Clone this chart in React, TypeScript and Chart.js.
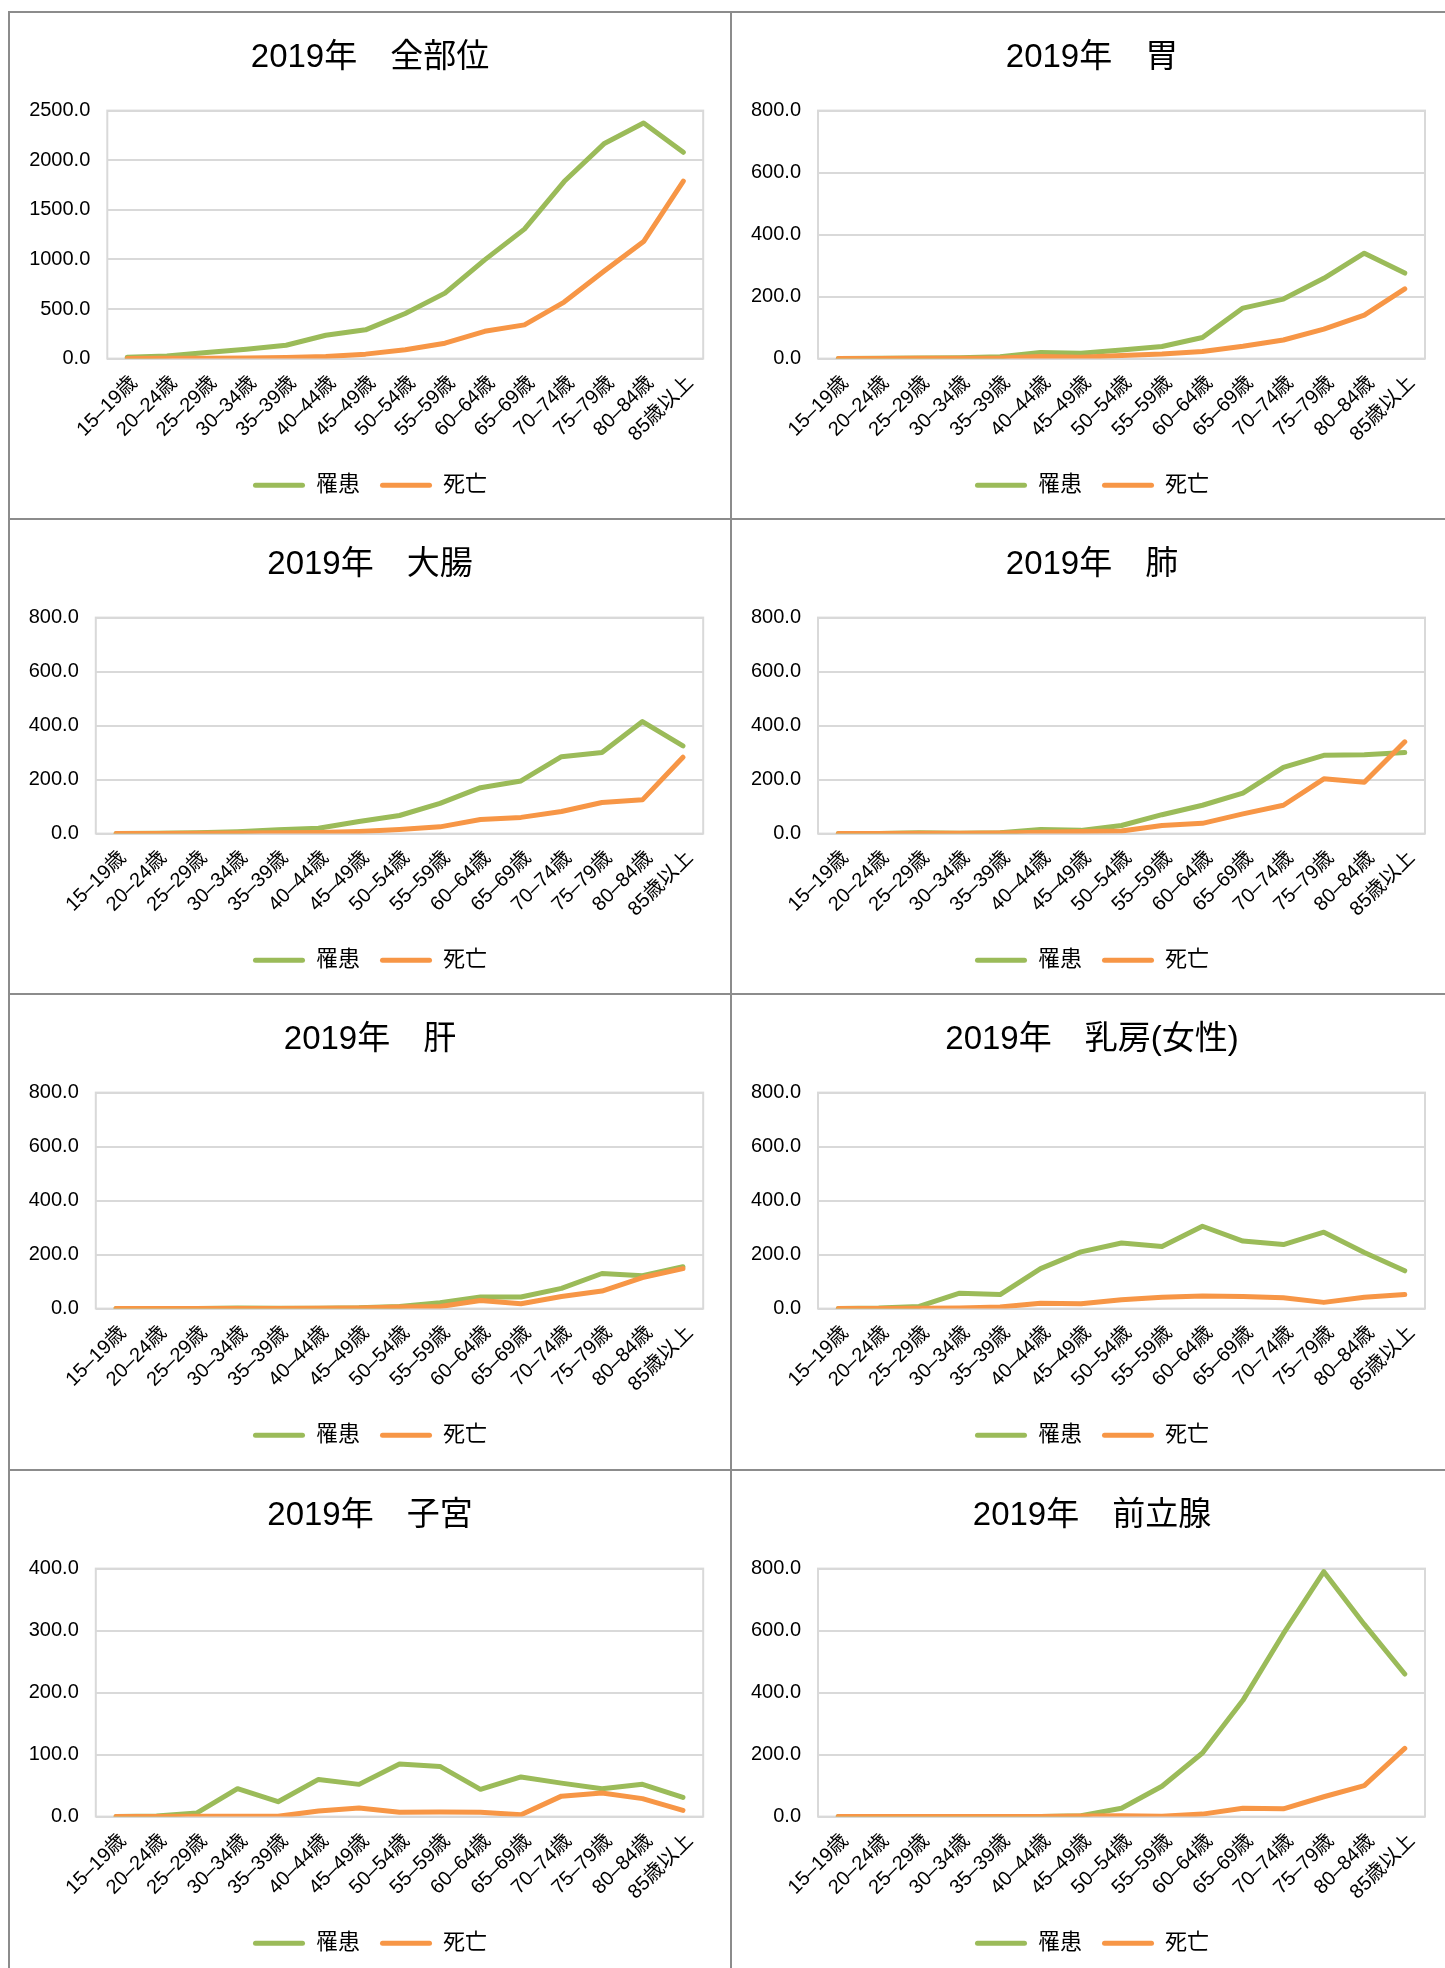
import React, { useEffect, useRef } from 'react';
import { Chart, registerables } from 'chart.js';

Chart.register(...registerables);

// ---------- data ----------
const categories = ['15–19歳', '20–24歳', '25–29歳', '30–34歳', '35–39歳', '40–44歳', '45–49歳', '50–54歳', '55–59歳', '60–64歳', '65–69歳', '70–74歳', '75–79歳', '80–84歳', '85歳以上'];
const seriesNames = ['罹患', '死亡'];

const allSitesIncidence = [14, 27, 62, 95, 135, 235, 290, 455, 660, 995, 1305, 1785, 2165, 2375, 2080];
const allSitesDeath = [2, 3, 4, 7, 12, 22, 45, 90, 155, 275, 340, 570, 880, 1180, 1790];

const stomachIncidence = [0.5, 1, 2, 3, 6, 20, 17, 28, 39, 68, 163, 192, 259, 340, 276];
const stomachDeath = [0, 0.5, 1, 1, 2, 7, 4, 10, 15, 23, 40, 60, 95, 140, 225];

const colonIncidence = [0.5, 1, 3, 7, 14, 20, 45, 67, 112, 170, 195, 285, 300, 415, 325];
const colonDeath = [0, 0.5, 1, 2, 3, 4, 8, 15, 25, 52, 60, 82, 115, 125, 283];

const lungIncidence = [0, 0.5, 3, 1, 3, 15, 12, 30, 70, 105, 150, 245, 290, 292, 300];
const lungDeath = [0, 0.5, 1, 1, 2, 5, 8, 10, 30, 38, 73, 105, 203, 190, 340];

const liverIncidence = [0, 0.2, 0.5, 2, 1, 1.5, 3, 8, 22, 43, 43, 75, 130, 122, 155];
const liverDeath = [0, 0, 0.5, 0.5, 0.5, 1, 2, 6, 8, 30, 18, 45, 65, 115, 148];

const breastIncidence = [0.5, 2, 8, 57, 52, 148, 210, 243, 230, 305, 250, 237, 283, 208, 140];
const breastDeath = [0, 0.5, 1, 2, 6, 20, 18, 33, 42, 47, 45, 40, 23, 42, 52];

const uterusIncidence = [0, 1, 6, 45, 24, 60, 52, 85, 81, 44, 64, 54, 45, 52, 31];
const uterusDeath = [0, 0, 0.5, 0.5, 0.5, 9, 14, 7, 7.5, 7, 3, 33, 38, 29, 10];

const prostateIncidence = [0, 0, 0, 0, 0, 0.5, 3, 27, 98, 205, 375, 590, 790, 620, 460];
const prostateDeath = [0, 0, 0, 0, 0, 0.5, 2, 3, 1, 8, 27, 25, 64, 100, 220];

const panelTitles = ['2019年　全部位', '2019年　胃', '2019年　大腸', '2019年　肺', '2019年　肝', '2019年　乳房(女性)', '2019年　子宮', '2019年　前立腺'];
const yAxisMax = [2500, 800, 800, 800, 800, 800, 400, 800];
const yAxisStep = [500, 200, 200, 200, 200, 200, 100, 200];

const incidenceSeries = [allSitesIncidence, stomachIncidence, colonIncidence, lungIncidence, liverIncidence, breastIncidence, uterusIncidence, prostateIncidence];
const deathSeries = [allSitesDeath, stomachDeath, colonDeath, lungDeath, liverDeath, breastDeath, uterusDeath, prostateDeath];

// ---------- layout / style ----------
const FONT = '"Liberation Sans", Arial, "Noto Sans CJK JP", sans-serif';
const GREEN = '#9BBB59';
const ORANGE = '#F79646';
const GRID = '#d9d9d9';
const BORDER = '#8c8c8c';

const COL_X = [10, 732];
const COL_W = 720;
const ROW_BORDER = [11, 518, 993, 1469];
const ROW_CANVAS_TOP = [13, 520, 995, 1471];
const ROW_CANVAS_H = [505, 473, 474, 497];
const ROW_PLOT_H = [248, 216, 216, 248];

const TITLE_SIZE = 33;
const TITLE_CENTER = 45;
const PLOT_TOP = 97.6;
const TICK_SIZE = 20;
const LEGEND_SIZE = 22;
const LEGEND_PAD = 20;
const LEGEND_CENTER_BELOW_PLOT = 126.7;

const framePlugin = {
  id: 'plotFrame',
  beforeDatasetsDraw(chart: any) {
    const { ctx, chartArea } = chart;
    ctx.save();
    ctx.strokeStyle = GRID;
    ctx.lineWidth = 2;
    ctx.strokeRect(chartArea.left, chartArea.top, chartArea.right - chartArea.left, chartArea.bottom - chartArea.top);
    ctx.restore();
  },
};

function Panel({ index }: { index: number }) {
  const ref = useRef<HTMLCanvasElement>(null);
  const col = index % 2;
  const row = Math.floor(index / 2);
  const canvasH = ROW_CANVAS_H[row];
  const plotH = ROW_PLOT_H[row];
  const plotLeft = col === 0 ? (index === 0 ? 97.3 : 85.8) : 86;
  const rightGap = col === 0 ? 26.8 : 27;

  useEffect(() => {
    if (!ref.current) return;
    const titleLine = TITLE_SIZE * 1.2;
    const titlePadTop = TITLE_CENTER - titleLine / 2;
    const titlePadBottom = PLOT_TOP - titlePadTop - titleLine;
    const legendH = LEGEND_SIZE + LEGEND_PAD + 10;
    const legendCenterInBox = LEGEND_PAD + LEGEND_SIZE / 2;
    const xAxisH = LEGEND_CENTER_BELOW_PLOT - legendCenterInBox;
    const padBottom = canvasH - PLOT_TOP - plotH - xAxisH - legendH;

    const chart = new Chart(ref.current, {
      type: 'line',
      data: {
        labels: categories,
        datasets: [
          {
            label: seriesNames[0],
            data: incidenceSeries[index],
            borderColor: GREEN,
            backgroundColor: GREEN,
            borderWidth: 5,
            pointRadius: 0,
            borderCapStyle: 'round',
            borderJoinStyle: 'round',
            tension: 0,
            order: 1,
          },
          {
            label: seriesNames[1],
            data: deathSeries[index],
            borderColor: ORANGE,
            backgroundColor: ORANGE,
            borderWidth: 5,
            pointRadius: 0,
            borderCapStyle: 'round',
            borderJoinStyle: 'round',
            tension: 0,
            order: 0,
          },
        ],
      },
      options: {
        responsive: false,
        maintainAspectRatio: false,
        animation: false,
        events: [],
        layout: { padding: { top: 0, left: 0, right: 0, bottom: padBottom } },
        plugins: {
          tooltip: { enabled: false },
          title: {
            display: true,
            text: panelTitles[index],
            color: '#000',
            font: { family: FONT, size: TITLE_SIZE, weight: 'normal', lineHeight: 1.2 },
            padding: { top: titlePadTop, bottom: titlePadBottom },
          },
          legend: {
            display: true,
            position: 'bottom',
            labels: {
              color: '#000',
              font: { family: FONT, size: LEGEND_SIZE },
              boxWidth: 52,
              boxHeight: 5,
              padding: LEGEND_PAD,
              useBorderRadius: true,
              borderRadius: 2.5,
              sort: (a: any, b: any) => a.datasetIndex - b.datasetIndex,
              generateLabels: (c: any) => {
                const items = (Chart as any).defaults.plugins.legend.labels.generateLabels(c);
                return items.map((it: any) => ({ ...it, lineWidth: 0, fillStyle: it.strokeStyle }));
              },
            },
          },
        },
        scales: {
          x: {
            type: 'category',
            offset: true,
            grid: { display: false, drawTicks: false },
            border: { display: false },
            ticks: {
              autoSkip: false,
              maxRotation: 45,
              minRotation: 45,
              padding: 12.5,
              labelOffset: 7,
              color: '#000',
              font: { family: FONT, size: TICK_SIZE },
            },
            afterFit: (s: any) => {
              s.height = xAxisH;
            },
          },
          y: {
            type: 'linear',
            position: 'left',
            min: 0,
            max: yAxisMax[index],
            grid: { color: GRID, lineWidth: 2, drawTicks: false },
            border: { display: false },
            ticks: {
              stepSize: yAxisStep[index],
              padding: 17,
              color: '#000',
              font: { family: FONT, size: TICK_SIZE },
              callback: (v: any) => Number(v).toFixed(1),
            },
            afterFit: (s: any) => {
              s.width = plotLeft;
            },
          },
          yR: {
            type: 'linear',
            position: 'right',
            display: true,
            grid: { display: false, drawOnChartArea: false, drawTicks: false },
            border: { display: false },
            ticks: { display: false },
            afterFit: (s: any) => {
              s.width = rightGap;
            },
          },
        },
      } as any,
      plugins: [framePlugin],
    });
    return () => chart.destroy();
  }, [index]);

  return (
    <canvas
      ref={ref}
      width={COL_W}
      height={canvasH}
      style={{ position: 'absolute', left: COL_X[col], top: ROW_CANVAS_TOP[row], width: COL_W, height: canvasH }}
    />
  );
}

export default function App() {
  return (
    <div
      style={{
        position: 'absolute',
        left: 0,
        top: 0,
        width: 1445,
        height: 1968,
        overflow: 'hidden',
        background: '#fff',
      }}
    >
      {panelTitles.map((_, i) => (
        <Panel key={i} index={i} />
      ))}
      {ROW_BORDER.map((y, i) => (
        <div key={'h' + i} style={{ position: 'absolute', left: 8, top: y, width: 1445, height: 2, background: BORDER }} />
      ))}
      <div style={{ position: 'absolute', left: 8, top: 11, width: 2, height: 1968, background: BORDER }} />
      <div style={{ position: 'absolute', left: 730, top: 11, width: 2, height: 1968, background: BORDER }} />
    </div>
  );
}
